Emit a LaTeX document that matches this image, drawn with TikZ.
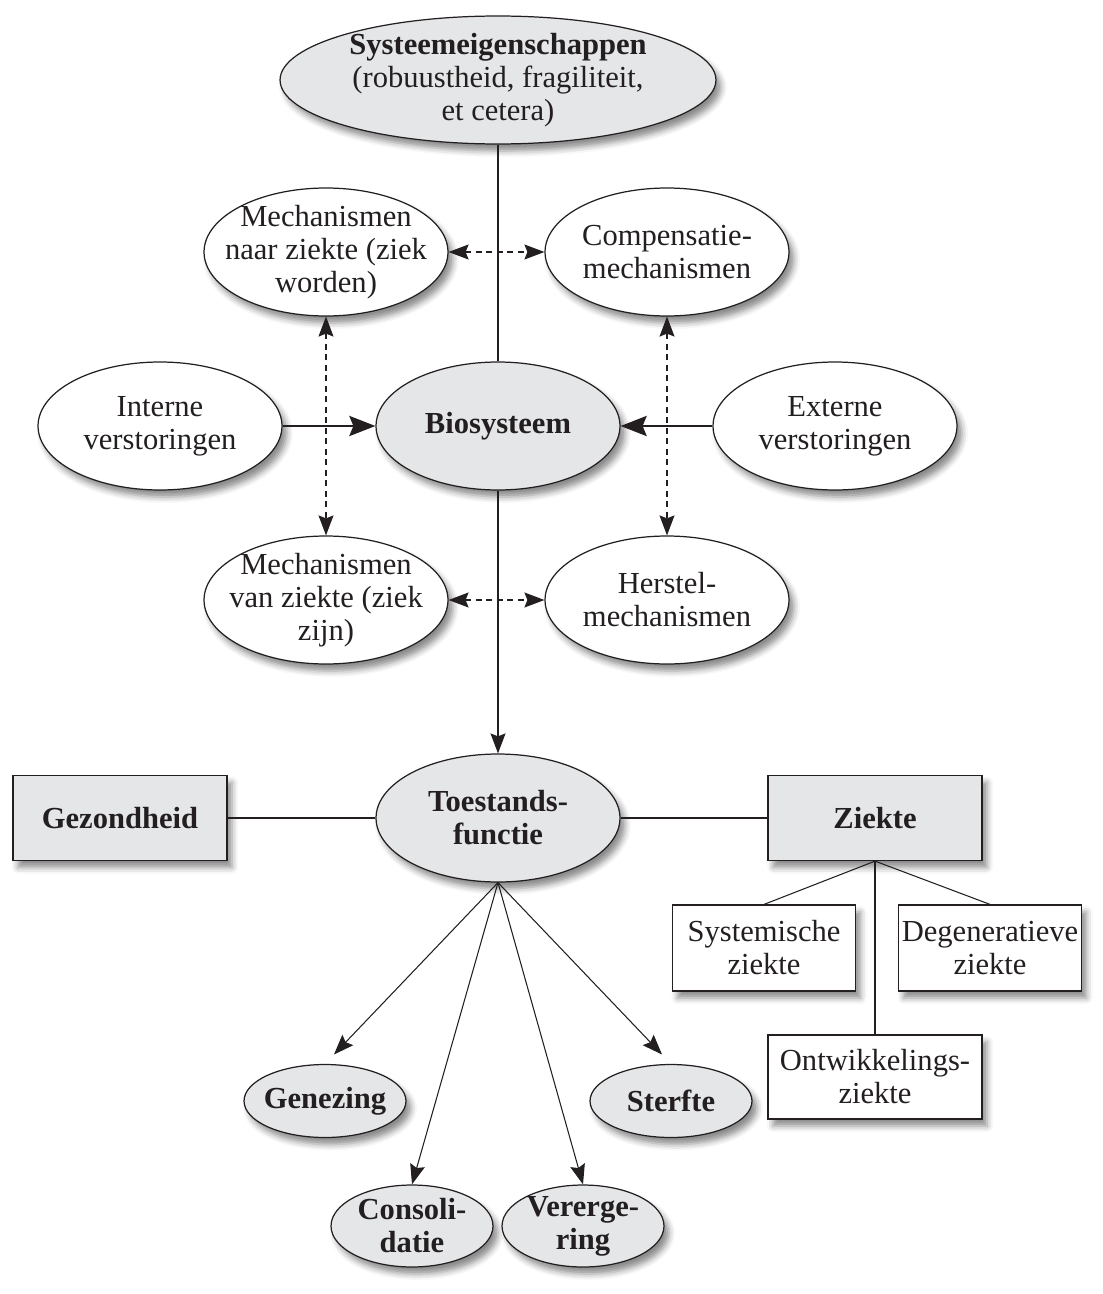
\documentclass[tikz,border=0pt]{standalone}
\usepackage{fontspec}
\setmainfont{Liberation Serif}
\usepackage{tikz}
\usetikzlibrary{arrows.meta,shapes.geometric,shadows.blur}
\definecolor{inkt}{RGB}{35,31,32}
\definecolor{vulgrijs}{RGB}{229,230,232}
\newcommand{\diafont}{\fontsize{17.4}{18.8}\selectfont}

\begin{document}
\begin{tikzpicture}[x=0.02cm, y=-0.02cm, color=inkt, line width=0.6pt,
  >={Stealth[length=0.4cm, width=0.3cm, inset=0.06cm]},
  schaduw/.style={blur shadow={shadow xshift=0.1cm, shadow yshift=-0.14cm, shadow blur radius=0.12cm, shadow opacity=45}},
  ovaal/.style={ellipse, draw, line width=0.7pt, fill=white, schaduw, align=center, font=\diafont,
    minimum width=4.88cm, minimum height=2.56cm, inner xsep=-0.8cm, inner ysep=-0.4cm},
  grijsovaal/.style={ovaal, fill=vulgrijs, font=\diafont\bfseries},
  klein/.style={minimum width=3.24cm, minimum height=1.46cm},
  blok/.style={draw, line width=0.7pt, fill=white, schaduw, align=center, font=\diafont,
    minimum width=3.66cm, minimum height=1.72cm, inner sep=1pt},
  grijsblok/.style={blok, fill=vulgrijs, font=\diafont\bfseries, minimum width=4.28cm, minimum height=1.7cm},
  stippel/.style={<->, dash pattern=on 0.12cm off 0.09cm},
  dikpijl/.style={-{Stealth[length=0.52cm, width=0.4cm, inset=0.08cm]}, line width=1.7pt}]
\useasboundingbox (0,0) rectangle (1102,1294);

\node[ovaal, fill=vulgrijs, minimum width=8.72cm] (sys) at (498,80)
  {\textbf{Systeemeigenschappen}\\(robuustheid, fragiliteit,\\et cetera)};
\node[ovaal] (mnz)  at (326,252) {Mechanismen\\naar ziekte (ziek\\worden)};
\node[ovaal] (comp) at (667,252) {Compensatie-\\mechanismen};
\node[ovaal] (int)  at (160,426) {Interne\\verstoringen};
\node[grijsovaal] (bio) at (498,426) {Biosysteem};
\node[ovaal] (ext)  at (835,426) {Externe\\verstoringen};
\node[ovaal] (mvz)  at (326,600) {Mechanismen\\van ziekte (ziek\\zijn)};
\node[ovaal] (herst) at (667,600) {Herstel-\\mechanismen};

\node[grijsovaal] (tf) at (498,818) {Toestands-\\functie};
\node[grijsblok] (gez)  at (120,818) {Gezondheid};
\node[grijsblok] (ziek) at (875,818) {Ziekte};
\node[blok] (sysz) at (764,948) {Systemische\\ziekte};
\node[blok] (degz) at (990,948) {Degeneratieve\\ziekte};
\node[blok, minimum width=4.28cm, minimum height=1.68cm] (ontw) at (875,1077) {Ontwikkelings-\\ziekte};

\node[grijsovaal, klein] (gen)   at (325,1101) {Genezing};
\node[grijsovaal, klein] (sterf) at (671,1101) {Sterfte};
\node[grijsovaal, klein, minimum height=1.64cm] (cons) at (412,1226) {Consoli-\\datie};
\node[grijsovaal, klein, minimum height=1.64cm] (verg) at (583,1226) {Vererge-\\ring};

\draw (sys) -- (bio);
\draw[dikpijl] (int) -- (bio);
\draw[dikpijl] (ext) -- (bio);
\draw[stippel] (mnz) -- (comp);
\draw[stippel] (mvz) -- (herst);
\draw[stippel] (mnz) -- (mvz);
\draw[stippel] (comp) -- (herst);
\draw[->] (bio) -- (tf);
\draw (gez) -- (tf) -- (ziek);
% ziekte splitst in drie soorten
\draw (ziek.south) -- (sysz.north);
\draw (ziek.south) -- (degz.north);
\draw (ziek.south) -- (ontw.north);
\draw[->, shorten >=0.26cm] (tf.south) -- (gen.north);
\draw[->] (tf.south) -- (cons.north);
\draw[->] (tf.south) -- (verg.north);
\draw[->, shorten >=0.26cm] (tf.south) -- (sterf.north);
\end{tikzpicture}
\end{document}
